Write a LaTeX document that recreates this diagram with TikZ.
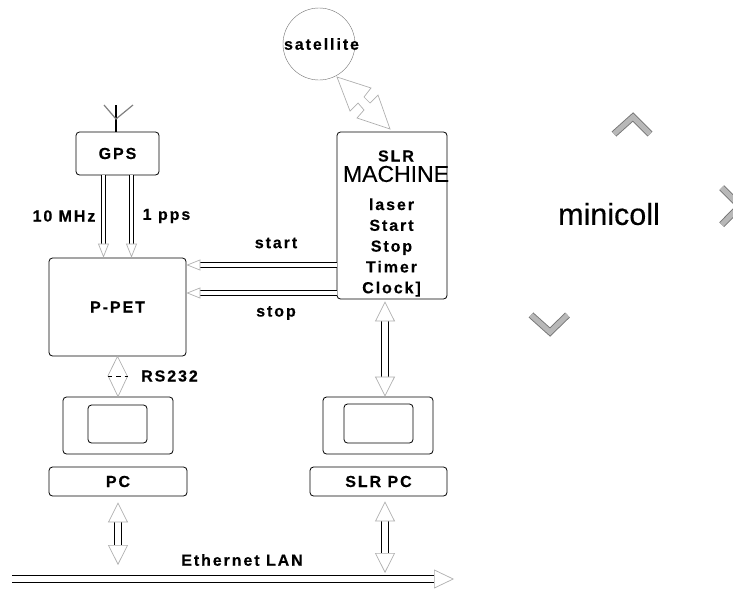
\documentclass[tikz,border=0pt]{standalone}
\usepackage{fontspec}
\usepackage{tikz}
\usetikzlibrary{arrows.meta, positioning, calc}
\newfontfamily\labelfont[LetterSpace=12, BoldFeatures={FakeBold=0.4}]{Liberation Sans}
\newfontfamily\bigfont[FakeBold=0.3]{Liberation Sans}
\definecolor{tipgray}{RGB}{175,175,175}
\begin{document}
\begin{tikzpicture}[
  x=1pt, y=-1pt,
  box/.style={draw, line width=.8pt, rounded corners=3.5pt, inner sep=0pt,
               font=\labelfont\bfseries\fontsize{16}{20.8}\selectfont},
  txt/.style={inner sep=0pt, font=\labelfont\bfseries\fontsize{16}{20.8}\selectfont, align=center},
  thinarrow/.style={draw, line width=.9pt, double=white, double distance=3.4pt,
               -{Triangle[length=14pt, width=11pt, fill=white, color=tipgray, line width=.7pt]}},
  widearrow/.style={draw, line width=.9pt, double=white, double distance=6.6pt,
               {Triangle[length=20pt, width=20pt, fill=white, color=tipgray, line width=.7pt]}-{Triangle[length=20pt, width=20pt, fill=white, color=tipgray, line width=.7pt]}},
  hollow/.style={draw=tipgray, line width=.7pt, line join=miter},
  chevron/.style={draw=black!55, line width=.9pt, double=black!28, double distance=5pt, line join=miter}
]
\useasboundingbox (0,0) rectangle (733,589);

% boxes
\node[box, minimum width=83pt, minimum height=43pt] (gps) at (117.5,153.5) {GPS};
\node[box, minimum width=137pt, minimum height=98pt] (ppet) at (117.5,307) {P-PET};
\node[box, minimum width=110pt, minimum height=167pt] (slr) at (392,215.5) {};
\node[box, minimum width=110pt, minimum height=57pt] (mon1) at (118,425.5) {};
\node[box, minimum width=59pt, minimum height=38pt] (scr1) at (117.5,424) {};
\node[box, minimum width=138pt, minimum height=29pt] (pc) at (118,481.5) {PC};
\node[box, minimum width=110pt, minimum height=57pt] (mon2) at (378,425.5) {};
\node[box, minimum width=69pt, minimum height=39pt] (scr2) at (378.5,423.5) {};
\node[box, minimum width=137pt, minimum height=29pt] (slrpc) at (378.5,481.5) {SLR PC};
\node[draw=black!55, circle, minimum size=72pt, inner sep=0pt] (sat) at (319,44) {};

% labels
\node[txt] at (321.5,44) {satellite};
\node[txt] (slrtxt) at (396,156) {SLR};
\node[inner sep=0pt, font=\bigfont\fontsize{23}{24}\selectfont] (machine) at (396,174) {MACHINE};
\node[txt] (slrlist) at (391.5,247.5) {laser\\Start\\Stop\\Timer\\Clock]};
\node[txt] (mhz) at (64,216) {10 MHz};
\node[txt] (pps) at (166.5,216) {1 pps};
\node[txt] (startl) at (276,243) {start};
\node[txt] (stopl) at (276,313) {stop};
\node[txt] (rs) at (169.5,376) {RS232};
\node[txt] (lan) at (242,560) {Ethernet LAN};
\node[inner sep=0pt, font=\bigfont\fontsize{30.5}{32}\selectfont] (mini) at (609,214) {minicoll};

% antenna
\coordinate (ant) at (116,105);
\draw[line width=1.6pt] (gps.north -| ant) -- (ant);
\draw[draw=black!50, line width=1.2pt] (104,105) -- (116,119) -- (133,105);

% signal lines
\draw[thinarrow] ($(gps.south)+(-14,0)$) -- ($(ppet.north)+(-14,0)$);
\draw[thinarrow] ($(gps.south)+(14,0)$) -- ($(ppet.north)+(14,0)$);
\draw[thinarrow] (slr.west |- 0,265) -- (ppet.east |- 0,265);
\draw[thinarrow] (slr.west |- 0,293) -- (ppet.east |- 0,293);
\draw[widearrow] ($(slr.south)+(-7,2)$) -- ($(mon2.north)+(7,0)$);
\draw[widearrow] ($(pc.south)+(0,6)$) -- (118,565);
\draw[widearrow] ($(slrpc.south)+(6.5,5)$) -- (385,573);

% ethernet bar
\coordinate (lanstart) at (12,579);
\coordinate (lanend) at (454,579);
\draw[draw, line width=1pt, double=white, double distance=6.2pt,
  -{Triangle[length=20pt, width=19pt, fill=white, color=tipgray, line width=.7pt]}] (lanstart) -- (lanend);

% rs232 link
\draw[hollow] (ppet.south) -- ++(10,20) -- (mon1.north) -- ++(-10,-21) -- cycle;
\draw[dash pattern=on 4.5pt off 4pt, line width=1pt] ($(ppet.south)+(-10,20)$) -- ($(ppet.south)+(10,20)$);

% satellite link
\draw[hollow] (337,77) -- ++(34,11) -- ++(-7,9) -- ++(6,6) -- ++(8,-8) -- (390,129)
  -- ++(-33,-11) -- ++(7,-8) -- ++(-6,-7) -- ++(-8,8) -- cycle;

% gray marks
\draw[chevron] (614,134) -- (633,117) -- (650,134);
\draw[chevron] (531,315) -- (550,332) -- (567.5,315);
\draw[chevron] (721.7,187.7) -- (740,206) -- (721.7,224.7);
\end{tikzpicture}
\end{document}
